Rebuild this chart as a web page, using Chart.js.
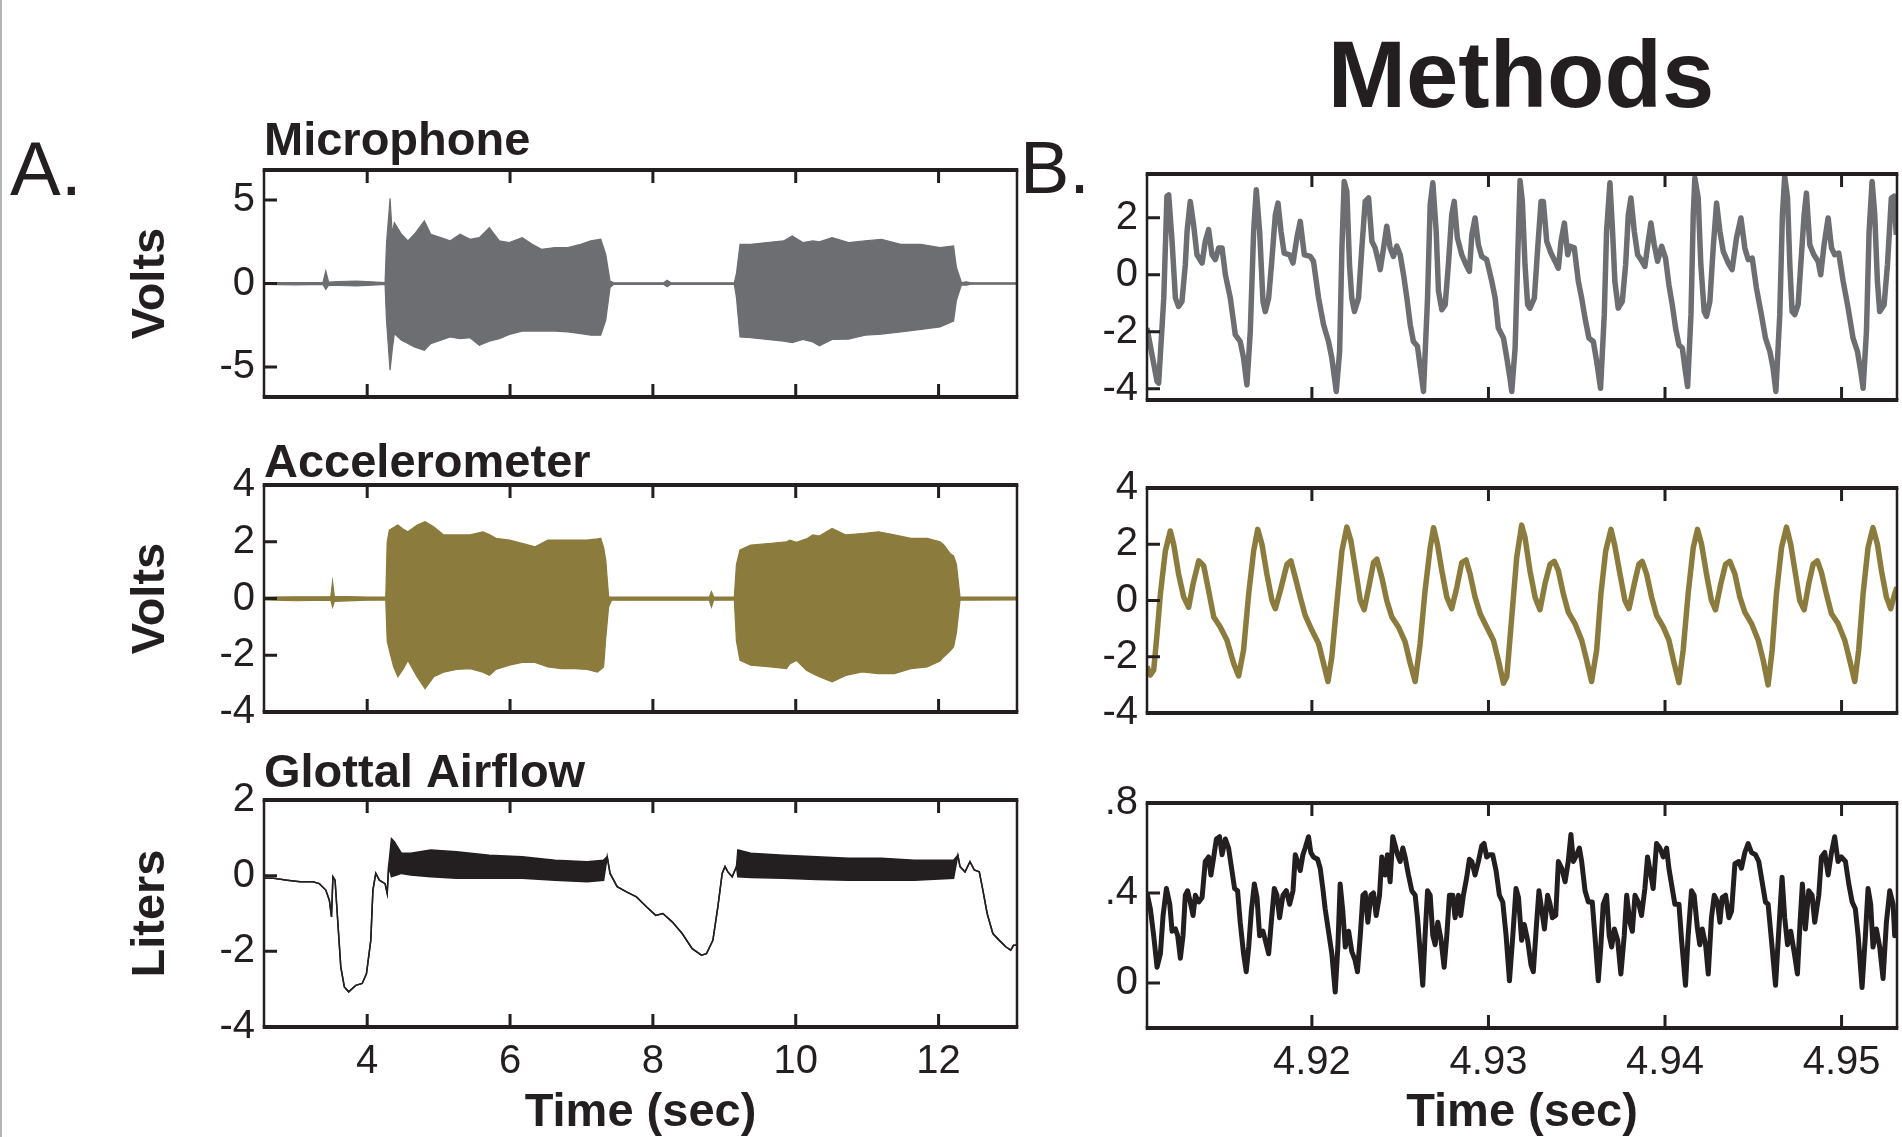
<!DOCTYPE html>
<html>
<head>
<meta charset="utf-8">
<script src="https://cdn.jsdelivr.net/npm/chart.js@4.4.1/dist/chart.umd.min.js"></script>
<style>
  body { margin: 0; background: #fff; width: 1902px; height: 1137px; overflow: hidden; position: relative;
         font-family: 'Liberation Sans', Arial, sans-serif; color: #231f20; }
  canvas { position: absolute; }
  .lbl { position: absolute; line-height: 1; white-space: nowrap; }
</style>
</head>
<body>
<div style="position:absolute;left:0;top:0;width:2px;height:1137px;background:#b4b5b7"></div>
<div class="lbl" style="left:1321px;width:400px;text-align:center;top:28px;font-size:94px;font-weight:bold">Methods</div>
<div class="lbl" style="left:10px;top:131px;font-size:76px">A.</div>
<div class="lbl" style="left:1020px;top:131px;font-size:74px">B.</div>
<script>
// tick values
const coarseTimeTicks = [4, 6, 8, 10, 12];
const fineTimeTicks = [4.92, 4.93, 4.94, 4.95];
const micTicks = [-5, 0, 5];
const accTicks = [-4, -2, 0, 2, 4];
const flowTicks = [-4, -2, 0, 2];
const micFineTicks = [-4, -2, 0, 2];
const accFineTicks = [-4, -2, 0, 2, 4];
const flowFineTicks = [0, 0.4, 0.8];

// A: envelopes of the long recordings (sec, upper, lower)
const micEnvT = [2.555, 3.0, 3.38, 3.42, 3.46, 3.6, 3.85, 4.06, 4.25, 4.27, 4.32, 4.35, 4.38, 4.48, 4.57, 4.66, 4.8, 4.89,
  5.03, 5.16, 5.3, 5.44, 5.57, 5.71, 5.85, 5.99, 6.17, 6.31, 6.44, 6.63, 6.81, 6.99, 7.13, 7.27, 7.34, 7.4, 7.45, 8.15, 8.2, 8.25,
  9.14, 9.17, 9.22, 9.37, 9.6, 9.83, 9.95, 10.1, 10.24, 10.33, 10.51, 10.74, 10.97, 11.2, 11.47, 11.75, 12.02, 12.21, 12.25,
  12.32, 12.39, 12.45, 13.098];
const micEnvHi = [0.05, 0.05, 0.05, 0.75, 0.08, 0.12, 0.15, 0.1, 0.05, 2.4, 5.1, 3.0, 3.65, 2.95, 2.55, 2.95, 3.75, 2.95,
  2.75, 2.55, 2.95, 2.65, 2.75, 3.35, 2.55, 2.45, 2.75, 2.35, 2.05, 2.15, 2.15, 2.35, 2.55, 2.65, 1.75, 0.15, 0.05, 0.04, 0.2, 0.04,
  0.05, 0.6, 2.35, 2.35, 2.45, 2.55, 2.85, 2.45, 2.55, 2.5, 2.75, 2.45, 2.55, 2.65, 2.35, 2.35, 2.15, 2.25, 0.96,
  0.06, 0.1, 0.04, 0.04];
const micEnvLo = [-0.05, -0.08, -0.05, -0.35, -0.1, -0.12, -0.15, -0.1, -0.05, -2.2, -5.2, -4.0, -3.0, -3.4, -3.6, -3.8, -4.0, -3.6,
  -3.4, -3.2, -3.3, -3.25, -3.7, -3.45, -3.3, -3.05, -2.85, -2.85, -2.85, -2.85, -2.9, -3.0, -3.1, -3.1, -2.2, -0.25, -0.05, -0.04, -0.2, -0.04,
  -0.05, -0.85, -3.2, -3.25, -3.35, -3.45, -3.55, -3.35, -3.5, -3.73, -3.35, -3.33, -3.1, -3.03, -2.9, -2.75, -2.6, -2.25, -1.0,
  -0.08, -0.1, -0.04, -0.04];

const accEnvT = [2.555, 3.0, 3.49, 3.515, 3.54, 4.0, 4.26, 4.28, 4.31, 4.37, 4.43, 4.5, 4.57, 4.7, 4.81, 4.93,
  5.07, 5.25, 5.44, 5.62, 5.71, 5.8, 5.99, 6.17, 6.35, 6.53, 6.72, 6.9, 7.08, 7.22, 7.27, 7.31, 7.34, 7.38, 7.42,
  8.79, 8.82, 8.85, 9.14, 9.17, 9.22, 9.37, 9.65, 9.87, 9.92, 10.01, 10.15, 10.24, 10.33, 10.51, 10.7, 10.93, 11.16, 11.38,
  11.61, 11.84, 12.02, 12.07, 12.16, 12.21, 12.25, 12.3, 13.098];
const accEnvHi = [0.05, 0.06, 0.06, 0.6, 0.08, 0.05, 0.05, 2.0, 2.41, 2.5, 2.59, 2.45, 2.35, 2.59, 2.71, 2.53,
  2.24, 2.24, 2.24, 2.35, 2.25, 2.12, 2.06, 1.94, 1.82, 2.06, 2.06, 2.06, 2.06, 2.1, 2.12, 1.8, 1.35, 0.06, 0.05,
  0.05, 0.24, 0.05, 0.05, 1.2, 1.71, 1.88, 1.94, 2.0, 2.06, 1.98, 2.1, 2.24, 2.2, 2.47, 2.24, 2.29, 2.35, 2.24,
  2.12, 2.12, 2.0, 1.9, 1.59, 1.5, 1.2, 0.05, 0.05];
const accEnvLo = [-0.05, -0.08, -0.06, -0.3, -0.1, -0.06, -0.05, -1.5, -1.82, -2.41, -2.76, -2.5, -2.18, -2.76, -3.18, -2.76,
  -2.6, -2.5, -2.47, -2.6, -2.71, -2.5, -2.35, -2.25, -2.25, -2.41, -2.47, -2.47, -2.5, -2.59, -2.5, -2.41, -1.4, -0.3, -0.06,
  -0.06, -0.3, -0.06, -0.05, -1.5, -2.18, -2.35, -2.41, -2.47, -2.3, -2.18, -2.53, -2.65, -2.76, -2.94, -2.71, -2.59, -2.65, -2.65,
  -2.47, -2.41, -2.2, -2.06, -1.85, -1.71, -1.2, -0.06, -0.05];

const flowEnvT = [2.555, 2.69, 2.88, 3.06, 3.24, 3.33, 3.42, 3.47, 3.5, 3.52, 3.55, 3.59, 3.63, 3.68, 3.74, 3.84, 3.93, 3.99,
  4.05, 4.08, 4.12, 4.17, 4.25, 4.28, 4.3, 4.34, 4.38, 4.48, 4.61, 4.89, 5.25, 5.71, 6.17, 6.63, 7.08, 7.31, 7.36, 7.4,
  7.5, 7.63, 7.77, 7.91, 8.04, 8.14, 8.27, 8.41, 8.55, 8.68, 8.75, 8.84, 8.91, 8.97, 9.01, 9.05, 9.11, 9.17, 9.19,
  9.37, 9.83, 10.29, 10.74, 11.2, 11.66, 12.21, 12.27, 12.3, 12.37, 12.44, 12.5, 12.57, 12.62, 12.68, 12.76, 12.85,
  12.94, 13.01, 13.05, 13.098];
const flowEnvHi = [-0.07, -0.07, -0.12, -0.16, -0.16, -0.21, -0.38, -0.65, -1.09, -0.03, -0.12, -1.27, -2.41, -2.94, -3.07, -2.9, -2.85, -2.59,
  -1.71, -0.38, 0.06, -0.12, -0.21, -0.47, 0.24, 0.98, 0.9, 0.59, 0.59, 0.68, 0.63, 0.54, 0.5, 0.41, 0.37, 0.41, 0.5, 0.06,
  -0.29, -0.43, -0.56, -0.82, -1.05, -1.0, -1.22, -1.53, -1.93, -2.1, -2.06, -1.71, -0.82, 0.06, 0.24, 0.1, -0.03, 0.24, 0.68,
  0.59, 0.54, 0.5, 0.46, 0.46, 0.41, 0.41, 0.54, 0.24, 0.1, 0.37, 0.15, 0.1, -0.38, -1.0, -1.53, -1.71,
  -1.88, -1.97, -1.84, -1.84];
const flowEnvLo = [-0.07, -0.07, -0.12, -0.16, -0.16, -0.21, -0.38, -0.65, -1.09, -0.03, -0.12, -1.27, -2.41, -2.94, -3.07, -2.9, -2.85, -2.59,
  -1.71, -0.38, 0.06, -0.12, -0.21, -0.47, 0.24, -0.03, 0.0, 0.06, 0.02, -0.03, -0.07, -0.07, -0.07, -0.12, -0.16, -0.12, 0.5, 0.06,
  -0.29, -0.43, -0.56, -0.82, -1.05, -1.0, -1.22, -1.53, -1.93, -2.1, -2.06, -1.71, -0.82, 0.06, 0.24, 0.1, -0.03, 0.24, -0.03,
  -0.05, -0.07, -0.1, -0.12, -0.12, -0.12, -0.07, 0.54, 0.24, 0.1, 0.37, 0.15, 0.1, -0.38, -1.0, -1.53, -1.71,
  -1.88, -1.97, -1.84, -1.84];

// B: close-up traces (sec, value)
const micFineT = [4.91066, 4.91123, 4.91132, 4.91161, 4.91179, 4.91189, 4.91208, 4.91227, 4.91245, 4.91264, 4.91283, 4.91293,
  4.91311, 4.9133, 4.91349, 4.91378, 4.91396, 4.91415, 4.91434, 4.91453, 4.91472, 4.91491, 4.9151, 4.91538, 4.91566, 4.91594,
  4.91613, 4.91632, 4.91651, 4.9167, 4.91685, 4.91704, 4.91723, 4.91736, 4.91755, 4.91774, 4.91793, 4.91808, 4.91825, 4.91843,
  4.91874, 4.91893, 4.91915, 4.91934, 4.91957, 4.91991, 4.92009, 4.92038, 4.92066, 4.92094, 4.92113, 4.92138, 4.92157, 4.9217,
  4.92183, 4.92198, 4.92213, 4.92226, 4.92241, 4.92264, 4.92283, 4.92302, 4.92321, 4.9234, 4.92358, 4.92377, 4.92387, 4.92406,
  4.92424, 4.92443, 4.92462, 4.92481, 4.925, 4.92519, 4.92538, 4.92557, 4.92575, 4.92598, 4.92617, 4.92632, 4.92655, 4.9267,
  4.92685, 4.92704, 4.92717, 4.92736, 4.92755, 4.92773, 4.92792, 4.92806, 4.92824, 4.92849, 4.92873, 4.92892, 4.92906, 4.92924,
  4.92943, 4.92962, 4.9299, 4.93019, 4.93038, 4.93056, 4.93085, 4.93104, 4.93122, 4.93132, 4.93151, 4.9317, 4.93179,
  4.93192, 4.93207, 4.93222, 4.93235, 4.9326, 4.93279, 4.93298, 4.93311, 4.9333, 4.93354, 4.93377, 4.93396, 4.93411, 4.9343,
  4.93449, 4.93462, 4.93486, 4.93509, 4.93528, 4.93547, 4.93569, 4.93594, 4.93613, 4.93635, 4.93656, 4.93669, 4.93688, 4.93703,
  4.93716, 4.93735, 4.93758, 4.93777, 4.93792, 4.93807, 4.93826, 4.93845, 4.93864, 4.93886, 4.93905, 4.9392, 4.93939, 4.93958,
  4.93981, 4.94003, 4.94022, 4.94041, 4.9406, 4.94079, 4.94098, 4.94113, 4.94128, 4.94147, 4.9416, 4.94169, 4.94188, 4.94203,
  4.94222, 4.94235, 4.94254, 4.94273, 4.94292, 4.94311, 4.9433, 4.94358, 4.9438, 4.94405, 4.9443, 4.94452, 4.94471, 4.94494,
  4.94518, 4.94546, 4.94569, 4.94594, 4.94612, 4.94628, 4.9465, 4.94665, 4.94678, 4.94694, 4.94707, 4.9472, 4.94735, 4.94754,
  4.94769, 4.94788, 4.94801, 4.9482, 4.94843, 4.94867, 4.94882, 4.94901, 4.94924, 4.94943, 4.94961, 4.94984, 4.95009, 4.95037,
  4.95065, 4.9509, 4.95109, 4.95122, 4.95141, 4.95156, 4.95173, 4.95188, 4.95203, 4.95216, 4.95241, 4.9526, 4.95282, 4.95297,
  4.9531];
const micFineV = [-1.87, -3.74, -3.8, -0.82, 2.75, 2.8, 1.17, -0.82, -1.11, -0.94, 0.35, 1.52,
  2.57, 1.75, 0.7, 0.41, 1.17, 1.58, 0.7, 0.53, 0.94, 0.94, 0.0, -0.82, -2.1, -2.34,
  -2.92, -3.86, -1.99, 1.52, 2.98, 1.52, -0.94, -1.29, -0.82, 0.58, 2.1, 2.51, 1.52, 0.76,
  0.7, 0.41, 1.29, 1.87, 0.7, 0.64, 0.47, -0.82, -1.75, -2.34, -2.92, -4.09, -2.69, 0.94,
  3.27, 2.92, 0.35, -0.82, -1.29, -0.82, 0.94, 2.57, 2.69, 1.17, 0.94, 0.47, 0.18, 0.94,
  1.7, 0.94, 0.64, 1.0, 0.7, 0.0, -0.82, -1.75, -2.34, -2.51, -3.39, -4.09, -0.82, 2.46,
  3.22, 1.52, -0.58, -1.23, -1.05, 0.35, 2.1, 2.57, 1.29, 0.7, 0.35, 0.12, 1.4, 1.99,
  1.05, 0.64, 0.53, -0.23, -0.82, -1.87, -2.22, -2.92, -3.63, -4.09, -2.57, 1.52, 3.3,
  2.57, 0.35, -1.05, -1.17, -0.82, 0.94, 2.57, 2.57, 1.17, 0.76, 0.47, 0.23, 1.17, 1.81,
  0.7, 1.0, 0.94, -0.23, -0.82, -1.52, -2.22, -2.34, -3.04, -3.98, -1.4, 1.52, 3.22, 1.52,
  -0.23, -1.17, -0.94, 0.35, 2.1, 2.69, 1.52, 0.7, 0.53, 0.29, 1.17, 1.81, 1.05, 0.47,
  1.0, 0.58, -0.35, -1.05, -1.87, -2.46, -2.57, -3.27, -3.92, -1.4, 2.1, 3.39, 2.69, 0.35,
  -1.29, -1.46, -0.94, 0.94, 2.51, 1.52, 0.82, 0.41, 0.18, 1.29, 1.99, 0.94, 0.53, 0.58,
  -0.47, -1.4, -2.22, -2.69, -3.27, -4.09, -1.4, 2.1, 3.45, 2.69, 0.35, -1.29, -1.4, -1.05,
  0.35, 2.1, 2.86, 1.05, 0.7, 0.47, 0.0, 1.05, 1.99, 0.94, 0.7, 0.76, -0.23, -1.17,
  -2.22, -2.69, -3.39, -3.98, -1.99, 1.52, 3.27, 2.1, -0.23, -1.29, -1.05, 0.35, 2.69, 2.75,
  1.4];

const accFineT = [4.91066, 4.91085, 4.91104, 4.91123, 4.91142, 4.9117, 4.91198, 4.91217, 4.91245, 4.91274, 4.91302, 4.91327,
  4.91359, 4.91387, 4.91415, 4.91444, 4.91481, 4.91519, 4.91557, 4.91585, 4.91613, 4.91642, 4.9167, 4.91693, 4.91717, 4.91745,
  4.91774, 4.91793, 4.91821, 4.91859, 4.91881, 4.91906, 4.91934, 4.91962, 4.92, 4.92038, 4.92066, 4.92091, 4.92113, 4.92141,
  4.9217, 4.92198, 4.92221, 4.92251, 4.92274, 4.92296, 4.92326, 4.92349, 4.92368, 4.92396, 4.92424, 4.92453, 4.9249, 4.92528,
  4.92557, 4.92585, 4.92613, 4.92641, 4.9267, 4.92689, 4.92711, 4.92736, 4.92764, 4.92792, 4.92821, 4.92849, 4.92873, 4.92896,
  4.92924, 4.92953, 4.9299, 4.93028, 4.93056, 4.93085, 4.93104, 4.93132, 4.9316, 4.93188, 4.93207, 4.93235, 4.93264, 4.93292,
  4.9332, 4.93349, 4.93373, 4.93396, 4.93424, 4.93452, 4.9349, 4.93528, 4.93556, 4.93584, 4.93613, 4.93637, 4.93664, 4.93694,
  4.93716, 4.93745, 4.93773, 4.93796, 4.93826, 4.93852, 4.93871, 4.93896, 4.93924, 4.93952, 4.9399, 4.94022, 4.94052, 4.94079,
  4.94103, 4.94131, 4.9416, 4.94184, 4.94207, 4.94235, 4.94263, 4.94286, 4.94316, 4.94343, 4.94367, 4.94396, 4.94424, 4.94452,
  4.9449, 4.94528, 4.94556, 4.94584, 4.94607, 4.94631, 4.9466, 4.94688, 4.94712, 4.94739, 4.94763, 4.94788, 4.94814, 4.94839,
  4.94863, 4.94886, 4.94914, 4.94943, 4.9498, 4.95018, 4.95046, 4.95075, 4.95097, 4.95122, 4.9515, 4.95178, 4.95203, 4.95226,
  4.95254, 4.95278, 4.95301, 4.95314];
const accFineV = [-2.35, -2.65, -2.47, -1.18, 0.24, 1.76, 2.47, 2.0, 0.94, 0.12, -0.24, 0.59,
  1.41, 1.24, 0.35, -0.59, -0.94, -1.41, -2.24, -2.68, -1.76, 0.24, 1.76, 2.53, 2.0, 0.94,
  0.0, -0.29, 0.35, 1.29, 1.41, 0.82, 0.12, -0.53, -1.06, -1.53, -2.24, -2.88, -2.0, -0.12,
  1.76, 2.61, 2.12, 0.94, 0.0, -0.33, 0.59, 1.35, 1.47, 0.82, 0.0, -0.59, -0.94, -1.47,
  -2.24, -2.88, -1.53, 0.35, 1.88, 2.59, 2.0, 1.06, 0.12, -0.29, 0.47, 1.35, 1.44, 0.94,
  0.12, -0.47, -0.94, -1.41, -2.12, -2.94, -2.71, -0.59, 1.53, 2.68, 2.24, 1.06, 0.12, -0.33,
  0.59, 1.29, 1.39, 1.06, 0.24, -0.41, -0.82, -1.41, -2.12, -2.88, -1.76, 0.24, 1.76, 2.53,
  1.94, 0.94, 0.0, -0.29, 0.59, 1.29, 1.39, 0.94, 0.12, -0.53, -0.94, -1.41, -2.24, -2.92,
  -1.76, 0.24, 1.88, 2.53, 2.0, 0.94, 0.0, -0.33, 0.59, 1.29, 1.39, 0.94, 0.12, -0.41,
  -0.82, -1.41, -2.12, -3.0, -1.76, 0.24, 1.88, 2.61, 2.0, 0.94, 0.0, -0.33, 0.59, 1.29,
  1.41, 1.0, 0.24, -0.47, -0.82, -1.41, -2.12, -2.88, -1.76, 0.24, 1.88, 2.59, 2.0, 1.06,
  0.12, -0.29, 0.24, 0.47];

const flowFineT = [4.91066, 4.91085, 4.91104, 4.91123, 4.91142, 4.91157, 4.91176, 4.91195, 4.91208, 4.91227, 4.9124, 4.91255,
  4.9127, 4.91283, 4.91296, 4.91311, 4.91327, 4.9134, 4.91359, 4.91378, 4.91396, 4.91415, 4.91428, 4.91444, 4.91459, 4.91477,
  4.91491, 4.9151, 4.91528, 4.91547, 4.91562, 4.91579, 4.91594, 4.91613, 4.91628, 4.91642, 4.91657, 4.91674, 4.91689, 4.91704,
  4.91723, 4.91736, 4.91755, 4.9177, 4.91787, 4.91802, 4.91817, 4.91836, 4.91855, 4.91874, 4.91893, 4.91906, 4.91919, 4.91934,
  4.91949, 4.91962, 4.91981, 4.91994, 4.92009, 4.92032, 4.92047, 4.92062, 4.92075, 4.92094, 4.92113, 4.92132, 4.92147, 4.9216,
  4.92175, 4.92189, 4.92208, 4.92226, 4.92245, 4.92258, 4.92274, 4.92289, 4.92302, 4.92317, 4.92334, 4.92349, 4.92364, 4.92383,
  4.92396, 4.92415, 4.92428, 4.92443, 4.92458, 4.92472, 4.92485, 4.925, 4.92515, 4.92528, 4.92547, 4.92566, 4.92585, 4.92598,
  4.92613, 4.92628, 4.92641, 4.92655, 4.9267, 4.92685, 4.92698, 4.92713, 4.9273, 4.92749, 4.92764, 4.92779, 4.92798, 4.92811,
  4.9283, 4.92843, 4.92858, 4.92877, 4.92892, 4.92906, 4.92924, 4.92943, 4.92962, 4.92975, 4.9299, 4.93006, 4.93024, 4.93043,
  4.93062, 4.93081, 4.931, 4.93119, 4.93138, 4.93156, 4.9317,
  4.93188, 4.93203, 4.93222, 4.93241, 4.93254, 4.93273, 4.93286, 4.93301, 4.93317, 4.93335, 4.93349, 4.93362, 4.93381, 4.93396,
  4.93415, 4.93434, 4.93452, 4.93467, 4.93481, 4.935, 4.93515, 4.93528, 4.93547, 4.93566, 4.93588, 4.93603, 4.93622, 4.93637,
  4.9365, 4.93669, 4.93684, 4.93698, 4.93713, 4.93732, 4.9375, 4.93769, 4.93783, 4.93801, 4.93815, 4.9383, 4.93849, 4.93867,
  4.93886, 4.93901, 4.9392, 4.93933, 4.93952, 4.93971, 4.9399, 4.94009, 4.94022, 4.94041, 4.94056, 4.94079, 4.94094, 4.94116,
  4.94131, 4.9415, 4.94165, 4.94184, 4.94197, 4.94211, 4.9423, 4.94245, 4.94263, 4.94279, 4.94297, 4.94311, 4.94324, 4.94343,
  4.94362, 4.94377, 4.94396, 4.94418, 4.94433, 4.94452, 4.94471, 4.9449, 4.94513, 4.94531, 4.9455, 4.94569, 4.94584, 4.94603,
  4.94626, 4.94645, 4.94663, 4.94678, 4.94694, 4.94712, 4.94731, 4.9475, 4.94765, 4.94778, 4.94795, 4.94814, 4.94833, 4.94848,
  4.94871, 4.94886, 4.94905, 4.94924, 4.94943, 4.94961, 4.9498, 4.94999, 4.95022, 4.95041, 4.9506, 4.95078, 4.95094, 4.95116,
  4.95135, 4.9515, 4.95165, 4.95178, 4.95197, 4.95216, 4.95235, 4.95254, 4.95273, 4.95292, 4.95301, 4.95314];
const flowFineV = [0.4, 0.33, 0.21, 0.07, 0.13, 0.3, 0.42, 0.35, 0.23, 0.24, 0.21, 0.11,
  0.21, 0.39, 0.41, 0.36, 0.3, 0.39, 0.36, 0.38, 0.54, 0.56, 0.48, 0.56, 0.64, 0.65,
  0.57, 0.64, 0.6, 0.5, 0.42, 0.41, 0.27, 0.13, 0.05, 0.16, 0.32, 0.44, 0.38, 0.21,
  0.23, 0.19, 0.13, 0.27, 0.42, 0.39, 0.29, 0.39, 0.41, 0.35, 0.41, 0.57, 0.54, 0.5,
  0.57, 0.6, 0.65, 0.58, 0.56, 0.55, 0.51, 0.42, 0.33, 0.23, 0.13, -0.04, 0.16, 0.44,
  0.32, 0.16, 0.23, 0.14, 0.1, 0.05, 0.21, 0.39, 0.4, 0.27, 0.39, 0.4, 0.3, 0.39,
  0.56, 0.48, 0.57, 0.45, 0.65, 0.61, 0.57, 0.54, 0.6, 0.56, 0.48, 0.41, 0.39, 0.29,
  0.14, -0.01, 0.21, 0.41, 0.39, 0.21, 0.17, 0.27, 0.2, 0.07, 0.21, 0.39, 0.39, 0.29,
  0.39, 0.3, 0.39, 0.47, 0.55, 0.54, 0.48, 0.54, 0.61, 0.62, 0.56, 0.57, 0.57, 0.5,
  0.39, 0.36, 0.21, 0.01, 0.21, 0.42, 0.38,
  0.19, 0.26, 0.19, 0.08, 0.05, 0.27, 0.41, 0.33, 0.24, 0.39, 0.35, 0.29, 0.3, 0.54,
  0.51, 0.45, 0.54, 0.66, 0.54, 0.57, 0.6, 0.54, 0.41, 0.36, 0.36, 0.21, 0.01, 0.17,
  0.35, 0.39, 0.21, 0.16, 0.24, 0.19, 0.04, 0.21, 0.39, 0.27, 0.23, 0.39, 0.36, 0.3,
  0.42, 0.56, 0.48, 0.42, 0.62, 0.6, 0.56, 0.6, 0.51, 0.42, 0.35, 0.35, 0.19, -0.01,
  0.21, 0.41, 0.39, 0.24, 0.17, 0.24, 0.17, 0.04, 0.29, 0.39, 0.36, 0.27, 0.38, 0.39,
  0.29, 0.32, 0.53, 0.54, 0.51, 0.58, 0.62, 0.58, 0.57, 0.54, 0.45, 0.36, 0.35, 0.19,
  -0.01, 0.24, 0.47, 0.29, 0.17, 0.23, 0.14, 0.04, 0.27, 0.44, 0.24, 0.41, 0.39, 0.27,
  0.39, 0.56, 0.58, 0.48, 0.58, 0.65, 0.54, 0.56, 0.54, 0.44, 0.36, 0.33, 0.21, -0.02,
  0.21, 0.42, 0.35, 0.16, 0.24, 0.16, 0.02, 0.27, 0.41, 0.35, 0.21, 0.27];

const INK = '#231f20';
const MIC = '#6d6e71';
const ACC = '#8b7b3c';
const FONT = "'Liberation Sans', Arial, sans-serif";
Chart.defaults.font.family = FONT;
Chart.defaults.color = INK;

const pts = (ts, vs) => ts.map((t, i) => ({ x: t, y: vs[i] }));

function band(ts, hi, lo, color, w) {
  return [
    { data: pts(ts, hi), borderColor: color, backgroundColor: color, borderWidth: w, fill: '+1', pointRadius: 0 },
    { data: pts(ts, lo), borderColor: color, borderWidth: w, fill: false, pointRadius: 0 }
  ];
}
function trace(ts, vs, color, w) {
  return [{ data: pts(ts, vs), borderColor: color, borderWidth: w, fill: false, pointRadius: 0, borderJoinStyle: 'round' }];
}

// box with heavy top/bottom rules and inward ticks
const framePlugin = {
  id: 'frame',
  afterDatasetsDraw(chart, args, opts) {
    const { ctx, chartArea: a } = chart;
    const xs = chart.scales.x, ys = chart.scales.y;
    ctx.save();
    ctx.strokeStyle = INK;
    ctx.lineWidth = 3;
    ctx.beginPath();
    opts.xTicks.forEach(v => {
      const px = xs.getPixelForValue(v);
      ctx.moveTo(px, a.top); ctx.lineTo(px, a.top + 13);
      ctx.moveTo(px, a.bottom); ctx.lineTo(px, a.bottom - 13);
    });
    opts.yTicks.forEach(v => {
      const py = ys.getPixelForValue(v);
      ctx.moveTo(a.left, py); ctx.lineTo(a.left + 13, py);
    });
    ctx.stroke();
    ctx.lineWidth = 2.5;
    ctx.beginPath();
    ctx.moveTo(a.left, a.top); ctx.lineTo(a.left, a.bottom);
    ctx.moveTo(a.right, a.top); ctx.lineTo(a.right, a.bottom);
    ctx.stroke();
    ctx.lineWidth = 4;
    ctx.beginPath();
    ctx.moveTo(a.left - 1.3, a.top); ctx.lineTo(a.right + 1.3, a.top);
    ctx.moveTo(a.left - 1.3, a.bottom); ctx.lineTo(a.right + 1.3, a.bottom);
    ctx.stroke();
    ctx.restore();
  }
};

function panel(p) {
  const c = document.createElement('canvas');
  c.width = p.w; c.height = p.h;
  c.style.left = p.left + 'px'; c.style.top = p.top + 'px';
  document.body.appendChild(c);
  const tickFont = { size: 40, lineHeight: 1 };
  const titleFont = { size: 47, weight: 'bold', lineHeight: 1 };
  new Chart(c, {
    type: 'line',
    data: { datasets: p.datasets },
    plugins: [framePlugin],
    options: {
      responsive: false,
      animation: false,
      devicePixelRatio: 1,
      layout: { padding: { left: 0, right: p.padRight, top: p.padTop, bottom: p.padBottom } },
      plugins: {
        legend: { display: false },
        tooltip: { enabled: false },
        title: {
          display: !!p.title, text: p.title, align: 'start', fullSize: false, color: INK,
          font: titleFont, padding: { top: p.titlePad ? p.titlePad[0] : 0, bottom: p.titlePad ? p.titlePad[1] : 0 }
        },
        frame: { xTicks: p.xTicks, yTicks: p.yTicks }
      },
      scales: {
        x: {
          type: 'linear', min: p.xMin, max: p.xMax, display: !!p.showX,
          grid: { display: false, drawTicks: false }, border: { display: false },
          afterBuildTicks: s => { s.ticks = p.xTicks.map(v => ({ value: v })); },
          afterFit: s => { if (p.showX) s.height = p.xHeight; },
          ticks: { padding: 15, font: tickFont, color: INK, maxRotation: 0, autoSkip: false, callback: v => String(v) },
          title: { display: !!p.showX, text: 'Time (sec)', color: INK, font: titleFont, padding: { top: 0, bottom: 0 } }
        },
        y: {
          type: 'linear', min: p.yMin, max: p.yMax,
          grid: { display: false, drawTicks: false }, border: { display: false },
          afterBuildTicks: s => { s.ticks = p.yTicks.map(v => ({ value: v })); },
          afterFit: s => { s.width = p.yWidth; },
          ticks: { padding: 9, font: tickFont, color: INK, autoSkip: false, callback: p.yFmt || (v => String(v)) },
          title: { display: !!p.yTitle, text: p.yTitle, color: INK, font: titleFont, padding: { top: 127.5, bottom: 0 } }
        }
      }
    }
  });
}

const LEFT = { left: 0, w: 1040, yWidth: 264, padRight: 23, xMin: 2.555, xMax: 13.098, xTicks: coarseTimeTicks };
const RIGHT = { left: 1040, w: 862, yWidth: 107, padRight: 5, xMin: 4.91066, xMax: 4.95314, xTicks: fineTimeTicks };

panel({ ...LEFT, top: 70, h: 372, padTop: 0, padBottom: 45, title: 'Microphone', titlePad: [49, 4],
  yTitle: 'Volts', yMin: -6.8, yMax: 6.8, yTicks: micTicks, datasets: band(micEnvT, micEnvHi, micEnvLo, MIC, 1.2) });
panel({ ...LEFT, top: 385, h: 372, padTop: 0, padBottom: 45, title: 'Accelerometer', titlePad: [55.5, -2.5],
  yTitle: 'Volts', yMin: -4, yMax: 4, yTicks: accTicks, datasets: band(accEnvT, accEnvHi, accEnvLo, ACC, 1.2) });
panel({ ...LEFT, top: 700, h: 437, padTop: 0, padBottom: 0, title: 'Glottal Airflow', titlePad: [51, 2],
  yTitle: 'Liters', yMin: -4, yMax: 2, yTicks: flowTicks, showX: true, xHeight: 110,
  datasets: band(flowEnvT, flowEnvHi, flowEnvLo, INK, 1.5) });

panel({ ...RIGHT, top: 74, h: 371, padTop: 100, padBottom: 45,
  yMin: -4.39, yMax: 3.53, yTicks: micFineTicks, datasets: trace(micFineT, micFineV, MIC, 5.5) });
panel({ ...RIGHT, top: 388, h: 370, padTop: 100, padBottom: 45,
  yMin: -4, yMax: 4, yTicks: accFineTicks, datasets: trace(accFineT, accFineV, ACC, 5.5) });
panel({ ...RIGHT, top: 703, h: 434, padTop: 100, padBottom: 0, showX: true, xHeight: 109,
  yMin: -0.2, yMax: 0.8, yTicks: flowFineTicks, yFmt: v => (v === 0 ? '0' : String(v).replace('0.', '.')),
  datasets: trace(flowFineT, flowFineV, INK, 5) });
</script>
</body>
</html>
